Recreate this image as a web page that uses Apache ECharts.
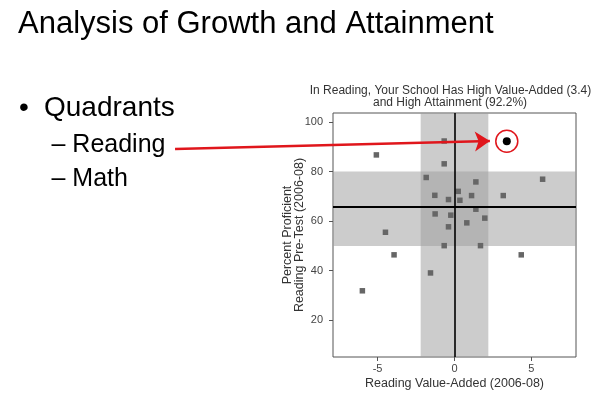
<!DOCTYPE html>
<html><head><meta charset="utf-8">
<script src="https://cdn.jsdelivr.net/npm/echarts@6/dist/echarts.min.js"></script>
<style>html,body{margin:0;padding:0;background:#fff}#c{width:600px;height:394px}</style>
</head><body><div id="c"></div>
<script>
const slideTitle = 'Analysis of Growth and Attainment';
const bulletMain = 'Quadrants';
const subBullets = ['Reading', 'Math'];
const chartTitle = ['In Reading, Your School Has High Value-Added (3.4)', 'and High Attainment (92.2%)'];
const xName = 'Reading Value-Added (2006-08)';
const yName = ['Percent Proficient', 'Reading Pre-Test (2006-08)'];
const xTicks = [-5, 0, 5];
const yTicks = [20, 40, 60, 80, 100];
const valueAdded = [-0.67, -5.08, -0.67, -1.84, 1.39, 5.73, 0.24, -1.28, -0.39, 0.35, 1.11, 3.17, 1.39, -1.26, -0.24, 1.97, 0.80, -0.39, -4.49, -0.67, 1.69, -3.93, 4.34, -1.56, -5.99];
const pctProficient = [92.3, 86.7, 83.1, 77.6, 75.8, 76.9, 72.0, 70.4, 68.7, 68.4, 70.3, 70.3, 64.8, 62.9, 62.4, 61.2, 59.3, 57.7, 55.5, 50.1, 50.1, 46.4, 46.4, 39.1, 31.9];
const yourSchool = [3.4, 92.2];
const bandX = [-2.2, 2.2];
const bandY = [50, 80];
const refX = 0;
const refY = 65.8;
const arrowFrom = [-18.17, 89.1];
const arrowTo = [2.3, 92.3];

const chart = echarts.init(document.getElementById('c'), null, {renderer: 'canvas'});
const FONT = '"Liberation Sans", Arial, sans-serif';
const points = valueAdded.map((v, i) => [v, pctProficient[i]]);

chart.setOption({
  animation: false,
  backgroundColor: '#fff',
  grid: {left: 333, top: 113, width: 243, height: 244, show: true, borderColor: '#555', borderWidth: 1, backgroundColor: 'transparent', outerBoundsMode: 'none'},
  xAxis: {
    type: 'value', min: -7.9, max: 7.9,
    name: xName, nameLocation: 'middle', nameGap: 20, nameMoveOverlap: false,
    nameTextStyle: {fontFamily: FONT, fontSize: 12.5, color: '#333'},
    axisLine: {show: false, onZero: false},
    splitLine: {show: false},
    axisTick: {show: true, length: 4, customValues: xTicks, lineStyle: {color: '#555'}},
    axisLabel: {customValues: xTicks, margin: 6, fontFamily: FONT, fontSize: 11, color: '#444'}
  },
  yAxis: {
    type: 'value', min: 5.2, max: 103.6,
    name: yName.join('\n'), nameLocation: 'middle', nameGap: 27, nameRotate: 90, nameMoveOverlap: false,
    nameTextStyle: {fontFamily: FONT, fontSize: 12.5, color: '#333', lineHeight: 12},
    axisLine: {show: false, onZero: false},
    splitLine: {show: false},
    axisTick: {show: true, length: 4, customValues: yTicks, lineStyle: {color: '#555'}},
    axisLabel: {customValues: yTicks, margin: 10, fontFamily: FONT, fontSize: 11, color: '#444'}
  },
  graphic: [
    {type: 'text', left: 18, top: 24.3 - 15.5, style: {text: slideTitle, font: '31px ' + FONT, fill: '#000'}},
    {type: 'text', x: 19, y: 108.6, style: {text: '\u2022', font: '28px ' + FONT, fill: '#000', verticalAlign: 'middle'}},
    {type: 'text', x: 44, y: 108.6, style: {text: bulletMain, font: '28px ' + FONT, fill: '#000', verticalAlign: 'middle'}},
    {type: 'text', x: 51.5, y: 145.3, style: {text: '\u2013 ' + subBullets[0], font: '25px ' + FONT, fill: '#000', verticalAlign: 'middle'}},
    {type: 'text', x: 51.5, y: 179.6, style: {text: '\u2013 ' + subBullets[1], font: '25px ' + FONT, fill: '#000', verticalAlign: 'middle'}},
    {type: 'text', x: 450.5, y: 90.5, style: {text: chartTitle[0], font: '12px ' + FONT, fill: '#333', align: 'center', verticalAlign: 'middle'}},
    {type: 'text', x: 450, y: 103, style: {text: chartTitle[1], font: '12px ' + FONT, fill: '#333', align: 'center', verticalAlign: 'middle'}}
  ],
  series: [
    {
      type: 'scatter', data: [], z: 1, silent: true,
      markArea: {
        silent: true,
        itemStyle: {color: 'rgba(159,159,159,0.53)'},
        data: [
          [{xAxis: bandX[0]}, {xAxis: bandX[1]}],
          [{yAxis: bandY[0]}, {yAxis: bandY[1]}]
        ]
      },
      markLine: {
        silent: true, symbol: 'none', label: {show: false},
        lineStyle: {color: '#000', type: 'solid', width: 1.6},
        data: [{xAxis: refX}, {yAxis: refY, lineStyle: {width: 2}}]
      }
    },
    {
      type: 'scatter', z: 3, data: points, symbol: 'rect', symbolSize: 5.5,
      itemStyle: {color: '#666', opacity: 1}
    },
    {
      type: 'scatter', z: 4, data: [yourSchool], symbol: 'circle', symbolSize: 8,
      itemStyle: {color: '#000', opacity: 1}
    },
    {
      type: 'scatter', z: 4, data: [yourSchool], symbol: 'circle', symbolSize: 22,
      itemStyle: {color: 'rgba(0,0,0,0)', borderColor: '#e0161c', borderWidth: 1.5, opacity: 1}
    },
    {
      type: 'lines', coordinateSystem: 'cartesian2d', z: 5, clip: false, silent: true,
      symbol: ['none', 'arrow'], symbolSize: 15,
      lineStyle: {color: '#e0161c', width: 2.5, opacity: 1, curveness: 0},
      data: [{coords: [arrowFrom, arrowTo]}]
    }
  ]
});
</script></body></html>
